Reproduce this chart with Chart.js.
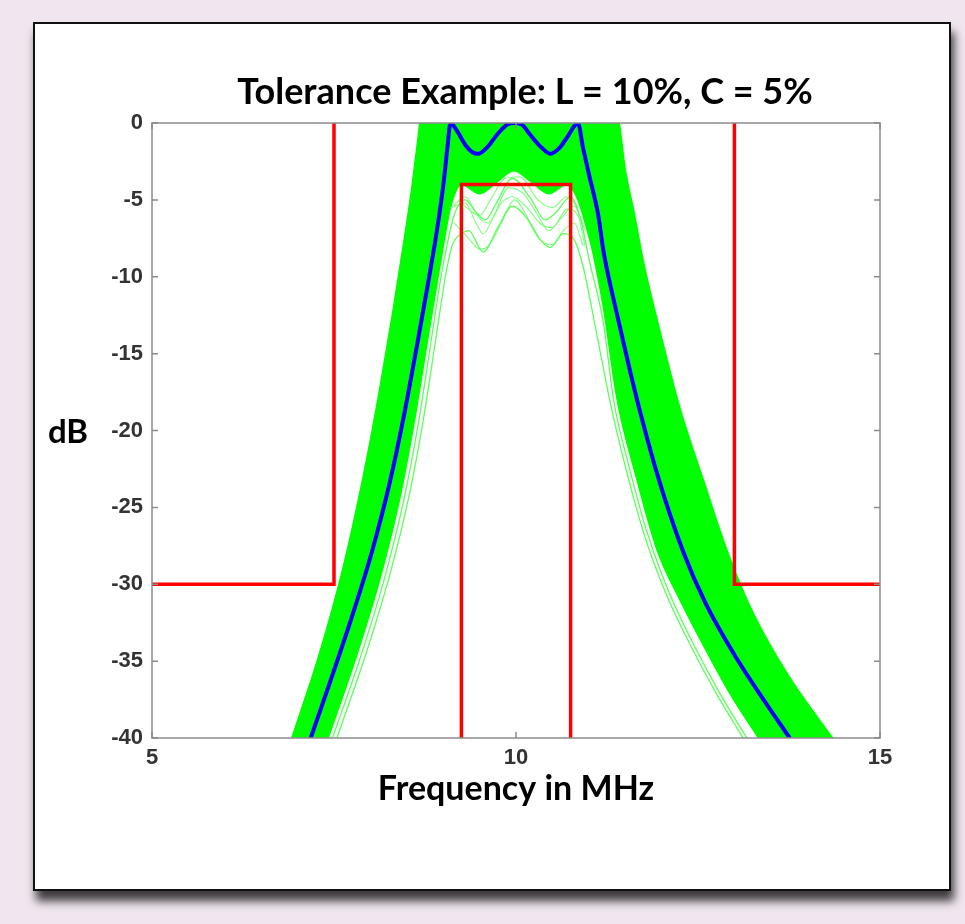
<!DOCTYPE html>
<html>
<head>
<meta charset="utf-8">
<script src="https://cdn.jsdelivr.net/npm/chart.js@4.4.1/dist/chart.umd.min.js"></script>
<style>
  html, body { margin: 0; padding: 0; background: #f0e6ef; width: 965px; height: 924px; overflow: hidden; }
  #box { position: absolute; left: 33px; top: 22px; width: 918px; height: 869px; background: #fff;
         border: 2px solid #111; box-sizing: border-box;
         box-shadow: 3px 10px 9px rgba(0,0,0,0.75); }
  #c { position: absolute; left: 0; top: 0; }
</style>
</head>
<body>
<div id="box"><canvas id="c" width="914" height="865"></canvas></div>
<script>
// ---- Data ----
const chartTitle = 'Tolerance Example: L = 10%, C = 5%';
const xAxisLabel = 'Frequency in MHz';
const yAxisLabel = 'dB';
const xTickValues = [5, 10, 15];
const yTickValues = [0, -5, -10, -15, -20, -25, -30, -35, -40];

// Nominal response (blue)
const blueFreq = [7.18, 7.45, 7.74, 8.02, 8.26, 8.47, 8.65, 8.8, 8.92, 9.01, 9.06, 9.1, 9.2, 9.3, 9.4, 9.48, 9.6, 9.75, 9.88, 9.97, 10.08, 10.2, 10.35, 10.47, 10.6, 10.72, 10.8, 10.85, 10.92, 11.0, 11.13, 11.2, 11.39, 11.56, 11.7, 11.95, 12.29, 12.6, 13.04, 13.4, 13.76];
const blueDb   = [-40, -36.3, -32.2, -27.9, -23.5, -18.8, -14.2, -10.2, -6.8, -3.7, -1.5, 0, -0.6, -1.4, -1.9, -2, -1.6, -0.7, -0.1, 0, -0.1, -0.8, -1.6, -2, -1.6, -0.8, -0.2, 0, -1.6, -3.3, -6, -8.3, -12.5, -16, -18.7, -23, -27.8, -31.2, -34.9, -37.5, -40];

// Monte Carlo runs (green): outer envelope of the dense band
const outerFreq = [6.92, 7.3, 7.62, 7.9, 8.12, 8.3, 8.44, 8.56, 8.64, 8.7, 9.0, 10.0, 11.0, 11.4, 11.5, 11.63, 11.75, 11.95, 12.25, 12.58, 12.9, 13.25, 13.75, 14.35];
const outerDb   = [-40, -34.5, -29, -23, -17.5, -12.5, -8.3, -4.5, -1.5, 0.5, 1, 1, 1, 0.3, -3, -6, -9, -13, -18.5, -23.3, -27.8, -31.8, -36, -40];
// inner edge of the dense band
const denseFreq = [7.42, 7.82, 8.14, 8.4, 8.6, 8.79, 8.93, 9.02, 9.1, 9.25, 9.5, 9.75, 9.97, 10.2, 10.45, 10.7, 10.85, 10.95, 11.05, 11.2, 11.39, 11.65, 11.94, 12.25, 12.6, 12.95, 13.33];
const denseDb   = [-40, -34.5, -29.5, -24.5, -19.5, -14, -10, -7.5, -5.5, -4, -4.6, -3.8, -3.1, -3.8, -4.6, -4, -5, -6.5, -8.3, -12, -18, -23, -27.8, -31, -34.2, -37.2, -40];
// individual low-gain runs
const runAFreq = [7.54, 7.94, 8.26, 8.52, 8.72, 8.9, 9.03, 9.12, 9.25, 9.35, 9.55, 9.75, 9.95, 10.15, 10.3, 10.47, 10.65, 10.8, 10.92, 11.1, 11.3, 11.5, 11.75, 12.05, 12.4, 12.75, 13.12];
const runADb   = [-40, -34.5, -29.5, -24.5, -19.5, -14, -10, -8, -7.2, -7, -8.4, -6.8, -5.4, -6.2, -7.4, -8.1, -7.2, -7.6, -9.3, -13.5, -18.3, -22.3, -26.6, -30.5, -34, -37.1, -40];
const runBFreq = [7.48, 7.88, 8.2, 8.46, 8.66, 8.84, 8.97, 9.05, 9.15, 9.3, 9.45, 9.58, 9.72, 9.95, 10.2, 10.4, 10.55, 10.75, 10.9, 11.0, 11.2, 11.34, 11.55, 11.8, 12.1, 12.45, 12.8, 13.17];
const runBDb   = [-40, -34.5, -29.5, -24.5, -19.5, -14, -10, -8, -6, -5, -5.8, -6.3, -5.3, -3.6, -4.9, -6.3, -5.8, -4.8, -6.5, -8.8, -13, -18, -22.3, -26.6, -30.5, -34, -37.1, -40];
const runCFreq = [9.1, 9.3, 9.45, 9.55, 9.7, 9.9, 10.1, 10.3, 10.45, 10.6, 10.8, 10.95];
const runCDb   = [-5.5, -5.2, -6.5, -7.2, -6, -4.2, -4.6, -6, -7, -6.3, -5.4, -7];
const runDFreq = [9.2, 9.4, 9.5, 9.65, 9.85, 10.05, 10.3, 10.5, 10.7, 10.85];
const runDDb   = [-5, -5.8, -6, -5, -3.6, -3.5, -5, -5.5, -4.8, -5.5];
const runEFreq = [9.12, 9.3, 9.5, 9.62, 9.8, 9.95, 10.15, 10.35, 10.5, 10.7, 10.85, 10.95];
const runEDb   = [-5.5, -4.8, -6.2, -6.5, -5.2, -4.8, -5.5, -6.6, -6.8, -5.6, -6, -8];
const runFFreq = [9.15, 9.35, 9.5, 9.62, 9.8, 9.98, 10.2, 10.38, 10.5, 10.65, 10.8, 10.92];
const runFDb   = [-6.5, -7.5, -8.2, -8, -6.5, -5, -6.5, -7.8, -7.9, -7, -6.5, -8];

// Specification mask (red)
const maskLeftFreq  = [5, 7.5, 7.5];
const maskLeftDb    = [-30, -30, 0];
const maskRightFreq = [13, 13, 15];
const maskRightDb   = [0, -30, -30];
const passFreq      = [9.25, 9.25, 10.75, 10.75];
const passDb        = [-40, -4, -4, -40];

// ---- build ----
const pts = (xs, ys) => xs.map((x, i) => ({ x: x, y: ys[i] }));
const GREEN = '#00ff00', BLUE = '#0000ff', RED = '#ff0000';

const curve = (label, xs, ys, color, width, order, extra) => Object.assign({
  label, data: pts(xs, ys), borderColor: color, borderWidth: width, pointRadius: 0,
  fill: false, cubicInterpolationMode: 'monotone', order
}, extra || {});

const datasets = [
  curve('nominal', blueFreq, blueDb, BLUE, 4, 0),
  curve('mask left', maskLeftFreq, maskLeftDb, RED, 3.5, 1, { cubicInterpolationMode: 'default', tension: 0 }),
  curve('mask right', maskRightFreq, maskRightDb, RED, 3.5, 1, { cubicInterpolationMode: 'default', tension: 0 }),
  curve('passband', passFreq, passDb, RED, 3.5, 1, { cubicInterpolationMode: 'default', tension: 0 }),
  curve('run A', runAFreq, runADb, '#5cff5c', 1.3, 2),
  curve('run B', runBFreq, runBDb, '#5cff5c', 1.3, 2),
  curve('run C', runCFreq, runCDb, '#7dff7d', 1.1, 2),
  curve('run D', runDFreq, runDDb, '#7dff7d', 1.1, 2),
  curve('run E', runEFreq, runEDb, '#7dff7d', 1.1, 2),
  curve('run F', runFFreq, runFDb, '#7dff7d', 1.1, 2),
  curve('band inner', denseFreq, denseDb, GREEN, 1.5, 4, { fill: 'start', backgroundColor: '#ffffff' }),
  curve('band outer', outerFreq, outerDb, GREEN, 1.5, 5, { fill: 'start', backgroundColor: GREEN }),
];

const decor = {
  id: 'decor',
  afterDatasetsDraw(chart) {
    const { ctx, chartArea: a, scales } = chart;
    ctx.save();
    ctx.strokeStyle = '#8c8c8c';
    ctx.lineWidth = 1.5;
    ctx.strokeRect(a.left, a.top, a.right - a.left, a.bottom - a.top);
    const t = 6;
    ctx.beginPath();
    yTickValues.forEach(v => {
      const y = scales.y.getPixelForValue(v);
      ctx.moveTo(a.left, y); ctx.lineTo(a.left + t, y);
      ctx.moveTo(a.right, y); ctx.lineTo(a.right - t, y);
    });
    xTickValues.forEach(v => {
      const x = scales.x.getPixelForValue(v);
      ctx.moveTo(x, a.bottom); ctx.lineTo(x, a.bottom - t);
      ctx.moveTo(x, a.top); ctx.lineTo(x, a.top + t);
    });
    ctx.stroke();
    ctx.restore();
  },
  afterDraw(chart) {
    const { ctx } = chart;
    ctx.save();
    ctx.fillStyle = '#000';
    ctx.textAlign = 'center';
    ctx.textBaseline = 'middle';
    ctx.font = 'bold 36px Lato';
    ctx.fillText(chartTitle, 490, 68);
    ctx.font = 'bold 34px Lato';
    ctx.fillText(xAxisLabel, 481, 765);
    ctx.font = 'bold 33px Lato';
    ctx.fillText(yAxisLabel, 33, 408);
    ctx.restore();
  }
};

new Chart(document.getElementById('c'), {
  type: 'line',
  data: { datasets },
  plugins: [decor],
  options: {
    responsive: false,
    animation: false,
    devicePixelRatio: 1,
    layout: { padding: { top: 99, right: 69, left: 0, bottom: 0 } },
    plugins: { legend: { display: false }, tooltip: { enabled: false }, title: { display: false } },
    scales: {
      x: {
        type: 'linear', min: 5, max: 15,
        afterBuildTicks: s => { s.ticks = xTickValues.map(v => ({ value: v })); },
        afterFit: s => { s.height = 151; },
        grid: { display: false, drawTicks: false },
        border: { display: false },
        ticks: { padding: 7, color: '#333', font: { family: 'Liberation Sans', size: 22, weight: 'bold' }, maxRotation: 0 }
      },
      y: {
        type: 'linear', min: -40, max: 0,
        afterBuildTicks: s => { s.ticks = yTickValues.map(v => ({ value: v })); },
        afterFit: s => { s.width = 117; },
        grid: { display: false, drawTicks: false },
        border: { display: false },
        ticks: { padding: 9, color: '#333', font: { family: 'Liberation Sans', size: 22, weight: 'bold' } }
      }
    }
  }
});
</script>
</body>
</html>
